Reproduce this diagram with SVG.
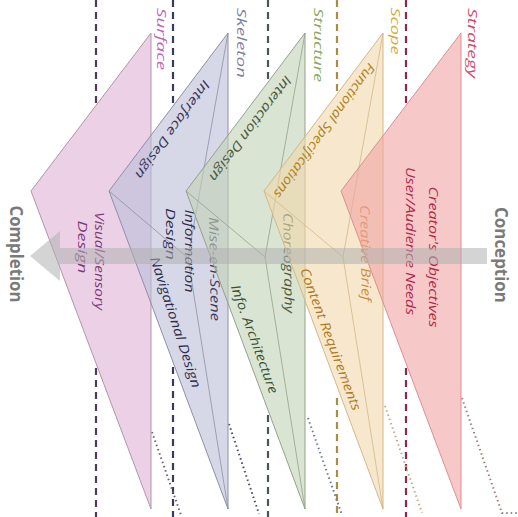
<svg xmlns="http://www.w3.org/2000/svg" width="518" height="517" viewBox="0 0 518 517">
  <style>
    .face { fill-opacity: 0.6; stroke-width: 1; stroke-linejoin: round; }
    .inner { fill: none; stroke-width: 0.8; }
    .lbl { font-family: "Open Sans", "Liberation Sans", sans-serif; font-style: italic; font-size: 12px; text-anchor: middle; dominant-baseline: central; }
    .txt { font-family: "Open Sans", "Liberation Sans", sans-serif; font-style: italic; font-size: 13px; text-anchor: middle; dominant-baseline: central; }
    .end { font-family: "Open Sans", "Liberation Sans", sans-serif; font-weight: bold; font-size: 17px; fill: #7a7a7a; text-anchor: middle; dominant-baseline: central; }
    .dash { fill: none; stroke-width: 2.2; stroke-dasharray: 7 5; }
    .dot { fill: none; stroke-width: 2; stroke-dasharray: 1.5 3; }
  </style>

  <rect width="518" height="517" fill="#ffffff"/>

  <!-- level guides: dashed verticals and dotted leaders -->
  <g id="connectors">
    <line class="dash" x1="96" y1="0" x2="96" y2="104" stroke="#4e3a5c"/>
    <line class="dash" x1="96" y1="368" x2="96" y2="517" stroke="#4e3a5c"/>
    <line class="dash" x1="173" y1="0" x2="173" y2="105" stroke="#3a3a5a"/>
    <line class="dash" x1="173" y1="367" x2="173" y2="517" stroke="#3a3a5a"/>
    <line class="dash" x1="268" y1="0" x2="268" y2="81" stroke="#4a5658"/>
    <line class="dash" x1="268" y1="415" x2="268" y2="517" stroke="#4a5658"/>
    <line class="dash" x1="337" y1="0" x2="337" y2="93" stroke="#a88c4c"/>
    <line class="dash" x1="337" y1="398" x2="337" y2="517" stroke="#a88c4c"/>
    <line class="dash" x1="406" y1="0" x2="406" y2="104" stroke="#8a2a4a"/>
    <line class="dash" x1="406" y1="368" x2="406" y2="517" stroke="#8a2a4a"/>

    <polyline class="dot" points="152,432 181,515" stroke="#6e5e78"/>
    <polyline class="dot" points="229,424 259,514" stroke="#4c4c72"/>
    <polyline class="dot" points="308,418 342,515" stroke="#6c7a9c"/>
    <polyline class="dot" points="385,406 422,513" stroke="#c8a880"/>
    <polyline class="dot" points="462,398 502,513 518,513" stroke="#a87a7a"/>
  </g>

  <!-- Surface -->
  <g id="surface">
    <polygon class="face" points="151,33 31,191 151,509" fill="#dfb1d5" stroke="#b096a8"/>
    <text class="lbl" transform="translate(161,39) rotate(90)" fill="#c262b4" textLength="62" lengthAdjust="spacingAndGlyphs">Surface</text>
    <text class="txt" transform="translate(100,261) rotate(90)" fill="#7a3a78" textLength="98" lengthAdjust="spacingAndGlyphs">Visual/Sensory</text>
    <text class="txt" transform="translate(83,247) rotate(90)" fill="#7a3a78" textLength="53" lengthAdjust="spacingAndGlyphs">Design</text>
  </g>

  <!-- Skeleton -->
  <g id="skeleton">
    <polygon class="face" points="228,33 109,191 228,509" fill="#bbbed9" stroke="#8e90a6"/>
    <polyline class="inner" points="109,191 188,258 228,509" stroke="#8e90a6"/>
    <line class="inner" x1="228" y1="33" x2="188" y2="258" stroke="#8e90a6"/>
    <text class="lbl" transform="translate(241,43) rotate(90)" fill="#7e7e9c" textLength="70" lengthAdjust="spacingAndGlyphs">Skeleton</text>
    <text class="txt" transform="translate(173,130) rotate(126)" fill="#3a3a5a" textLength="118" lengthAdjust="spacingAndGlyphs">Interface Design</text>
    <text class="txt" transform="translate(190,251) rotate(90)" fill="#2c2c4c" textLength="83" lengthAdjust="spacingAndGlyphs">Information</text>
    <text class="txt" transform="translate(171,234) rotate(90)" fill="#2c2c4c" textLength="52" lengthAdjust="spacingAndGlyphs">Design</text>
    <text class="txt" transform="translate(176,322) rotate(72)" fill="#2c2c4c" textLength="137" lengthAdjust="spacingAndGlyphs">Navigational Design</text>
    <text class="txt" transform="translate(215,269) rotate(89)" fill="#3c3c58" textLength="104" lengthAdjust="spacingAndGlyphs">Mise-en-Scene</text>
  </g>

  <!-- Structure -->
  <g id="structure">
    <polygon class="face" points="305,33 186,191 305,509" fill="#c1d2b4" stroke="#94a28a"/>
    <polyline class="inner" points="186,191 265,257 305,509" stroke="#94a28a"/>
    <line class="inner" x1="305" y1="33" x2="265" y2="257" stroke="#94a28a"/>
    <text class="lbl" transform="translate(318,45) rotate(90)" fill="#8ca85c" textLength="74" lengthAdjust="spacingAndGlyphs">Structure</text>
    <text class="txt" transform="translate(251,129) rotate(127)" fill="#4a5a40" textLength="128" lengthAdjust="spacingAndGlyphs">Interaction Design</text>
    <text class="txt" transform="translate(255,339) rotate(70)" fill="#3a5030" textLength="115" lengthAdjust="spacingAndGlyphs">Info. Architecture</text>
    <text class="txt" transform="translate(289,263) rotate(89)" fill="#4a5a40" textLength="100" lengthAdjust="spacingAndGlyphs">Choreography</text>
  </g>

  <!-- Scope -->
  <g id="scope">
    <polygon class="face" points="383,33 264,191 383,509" fill="#f2d9ac" stroke="#d2b888"/>
    <polyline class="inner" points="264,191 343,257 383,509" stroke="#d2b888"/>
    <line class="inner" x1="383" y1="33" x2="343" y2="257" stroke="#d2b888"/>
    <text class="lbl" transform="translate(395,31) rotate(90)" fill="#d4aa3c" textLength="47" lengthAdjust="spacingAndGlyphs">Scope</text>
    <text class="txt" transform="translate(325,131) rotate(126)" fill="#b08020" textLength="163" lengthAdjust="spacingAndGlyphs">Functional Specifications</text>
    <text class="txt" transform="translate(331,339) rotate(69.5)" fill="#b07820" textLength="151" lengthAdjust="spacingAndGlyphs">Content Requirements</text>
    <text class="txt" transform="translate(366,253) rotate(89)" fill="#d08a3c" textLength="96" lengthAdjust="spacingAndGlyphs">Creative Brief</text>
  </g>

  <!-- Strategy -->
  <g id="strategy">
    <polygon class="face" points="461,33 341,191 461,509" fill="#f0a3a3" stroke="#dc9090"/>
    <text class="lbl" transform="translate(472,43) rotate(90)" fill="#d04a68" textLength="70" lengthAdjust="spacingAndGlyphs">Strategy</text>
    <text class="txt" transform="translate(411,241) rotate(90)" fill="#b02848" textLength="148" lengthAdjust="spacingAndGlyphs">User/Audience Needs</text>
    <text class="txt" transform="translate(434,257) rotate(90)" fill="#b02848" textLength="141" lengthAdjust="spacingAndGlyphs">Creator's Objectives</text>
  </g>

  <!-- direction arrow: conception to completion -->
  <g id="flow-arrow">
    <polygon points="30,256 60,231 60,248 487,248 487,264 60,264 60,281" fill="#b0b0b0" fill-opacity="0.55"/>
  </g>

  <g id="completion">
    <text class="end" transform="translate(16,254) rotate(90)" textLength="97" lengthAdjust="spacingAndGlyphs">Completion</text>
  </g>
  <g id="conception">
    <text class="end" transform="translate(501,255) rotate(90)" textLength="96" lengthAdjust="spacingAndGlyphs">Conception</text>
  </g>
</svg>
